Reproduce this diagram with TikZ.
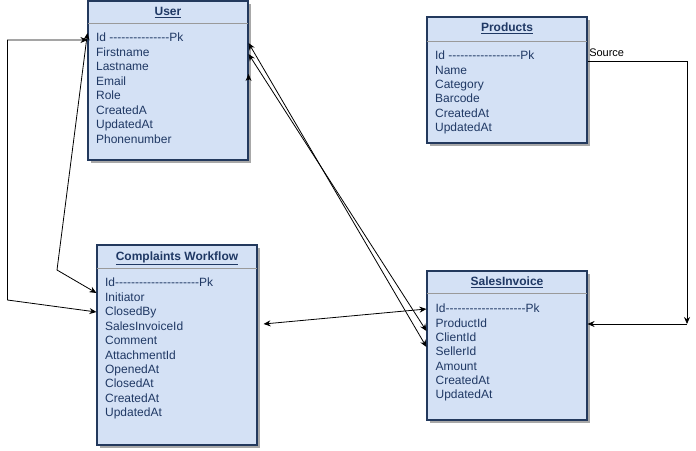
\documentclass[tikz,border=0pt]{standalone}
\usepackage{fontspec}
\newfontfamily\erdfont{Liberation Sans}
\usepackage{tikz}
\usetikzlibrary{calc,shadows,arrows.meta}
\definecolor{navy}{HTML}{1F3864}
\definecolor{boxfill}{HTML}{D4E1F5}
\definecolor{boxline}{HTML}{23395D}
\definecolor{sepgray}{HTML}{9A9A9A}
\definecolor{shadowgray}{HTML}{A8A8A8}
\newcommand{\fieldfont}{\erdfont\fontsize{12}{14}\selectfont}
\tikzset{
  tablebox/.style={draw=boxline, line width=1.1pt, fill=boxfill, inner sep=0pt,
    drop shadow={shadow xshift=3pt, shadow yshift=-3pt, fill=shadowgray, opacity=1}},
  tabtitle/.style={anchor=base, font=\fieldfont\bfseries, text=navy, inner sep=0pt},
  sepline/.style={draw=sepgray, line width=1pt},
  field/.style={anchor=base west, font=\fieldfont, text=navy, inner sep=0pt},
  link/.style={draw=black, line width=0.8pt, >={Stealth[length=7pt,width=6pt]}},
  srclab/.style={anchor=base west, font=\erdfont\fontsize{11}{13}\selectfont, inner sep=0pt}
}

\begin{document}
\begin{tikzpicture}[x=1pt,y=-1pt]
  \useasboundingbox (0,0) rectangle (696,450);

  % Tables
  \node[tablebox, minimum width=160pt, minimum height=159pt] (user) at (168,80.5) {};
  \node[tablebox, minimum width=160pt, minimum height=126pt] (prod) at (507,80) {};
  \node[tablebox, minimum width=160pt, minimum height=200pt] (cw) at (177,345) {};
  \node[tablebox, minimum width=160pt, minimum height=149pt] (si) at (507,345.5) {};

  % Titles and separators
  \node[tabtitle] (usert) at ($(user.north)+(0,15)$) {\underline{User}};
  \node[tabtitle] (prodt) at ($(prod.north)+(0,15.5)$) {\underline{Products}};
  \node[tabtitle] (cwt) at ($(cw.north)+(0,16)$) {\underline{Complaints Workflow}};
  \node[tabtitle] (sit) at ($(si.north)+(0,15)$) {\underline{SalesInvoice}};
  \draw[sepline] ($(user.north west)+(0.6,23)$) -- ($(user.north east)+(-0.6,23)$);
  \draw[sepline] ($(prod.north west)+(0.6,25)$) -- ($(prod.north east)+(-0.6,25)$);
  \draw[sepline] ($(cw.north west)+(0.6,24)$) -- ($(cw.north east)+(-0.6,24)$);
  \draw[sepline] ($(si.north west)+(0.6,23)$) -- ($(si.north east)+(-0.6,23)$);

  % Fields
  \foreach \f [count=\i from 0] in {Id ---------------Pk, Firstname, Lastname, Email, Role, CreatedA, UpdatedAt, Phonenumber}
    \node[field] (u\i) at ($(user.north west)+(8.5,41.5+14.45*\i)$) {\f};
  \foreach \f [count=\i from 0] in {Id ------------------Pk, Name, Category, Barcode, CreatedAt, UpdatedAt}
    \node[field] (p\i) at ($(prod.north west)+(8.5,43.3+14.4*\i)$) {\f};
  \foreach \f [count=\i from 0] in {Id---------------------Pk, Initiator, ClosedBy, SalesInvoiceId, Comment, AttachmentId, OpenedAt, ClosedAt, CreatedAt, UpdatedAt}
    \node[field] (c\i) at ($(cw.north west)+(8.5,42.3+14.45*\i)$) {\f};
  \foreach \f [count=\i from 0] in {Id--------------------Pk, ProductId, ClientId, SellerId, Amount, CreatedAt, UpdatedAt}
    \node[field] (s\i) at ($(si.north west)+(9,42.3+14.35*\i)$) {\f};

  % Connector ends
  \coordinate (uL1) at (user.west |- 0,40);
  \coordinate (uL2) at (user.west |- 0,33);
  \coordinate (uR1) at (user.east |- 0,43);
  \coordinate (uR2) at (user.east |- 0,54);
  \coordinate (uR3) at (user.east |- 0,74);
  \coordinate (cL1) at (cw.west |- 0,293);
  \coordinate (cL2) at (cw.west |- 0,312);
  \coordinate (cR) at ($(cw.east |- 0,324)+(6,0)$);
  \coordinate (sL0) at (si.west |- 0,309);
  \coordinate (sL1) at (si.west |- 0,331);
  \coordinate (sL2) at (si.west |- 0,347);
  \coordinate (sR) at (si.east |- 0,324);
  \coordinate (pR) at (prod.east |- 0,61);
  \coordinate (bend) at (57,270);
  \coordinate (turn) at (687,324);

  % Links
  \draw[link,<->] (uL1) -- ++(-80,0) -- ++(0,260) -- (cL2);
  \draw[link,<->] (uL2) -- (bend) -- (cL1);
  \draw[link,<->] (cR) -- (sL0);
  \draw[link,<->] (uR1) -- (sL2);
  \draw[link,<->] (uR2) -- (sL1);
  \draw[link,->] ($(uR3)+(0,6)$) -- (uR3);
  \draw[link,->] (pR) -| (turn);
  \draw[link,->] (turn) -- (sR);
  \node[srclab] (src) at ($(pR)+(1.5,-4.5)$) {Source};
\end{tikzpicture}
\end{document}
